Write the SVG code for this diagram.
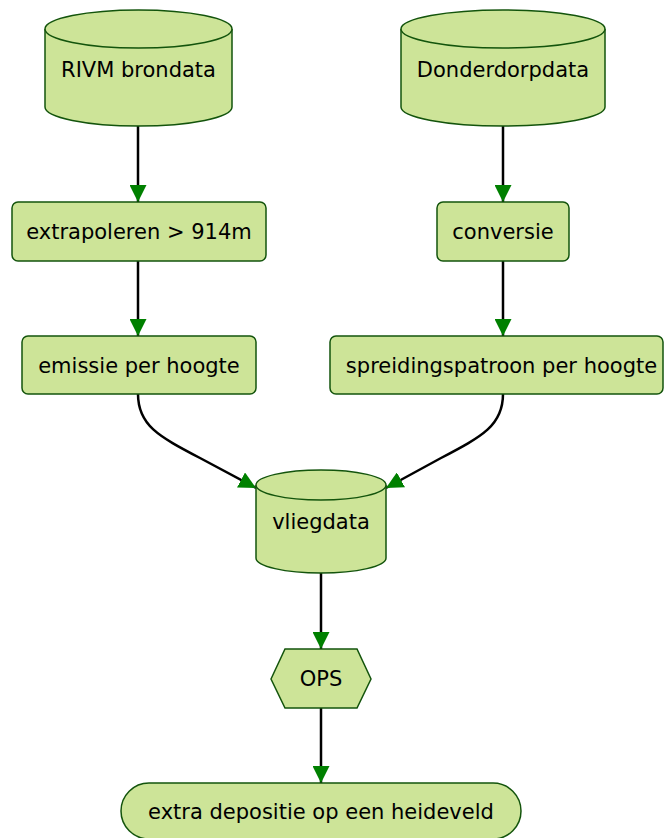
<svg xmlns="http://www.w3.org/2000/svg" width="665" height="838" viewBox="0 0 665 838">
<style>
.n{fill:#cde498;stroke:#13540c;stroke-width:1.5}
.t{font-family:"DejaVu Sans",sans-serif;font-size:21px;fill:#000;text-anchor:middle;dominant-baseline:central}
.e{fill:none;stroke:#000;stroke-width:2.5}
</style>
<defs>
<marker id="ah" viewBox="0 0 10 10" refX="10" refY="5" markerUnits="userSpaceOnUse" markerWidth="17" markerHeight="17" orient="auto">
<path d="M0,0 L10,5 L0,10 Z" fill="#008000"/>
</marker>
</defs>
<g id="edges">
<path class="e" d="M138,126 L138,202" marker-end="url(#ah)"/>
<path class="e" d="M138,261 L138,336" marker-end="url(#ah)"/>
<path class="e" d="M503,126 L503,202" marker-end="url(#ah)"/>
<path class="e" d="M503,261 L503,336" marker-end="url(#ah)"/>
<path class="e" d="M138,394 C138,425 158,436 200,458 L256,488" marker-end="url(#ah)"/>
<path class="e" d="M503,394 C503,425 483,436 441,458 L386,488" marker-end="url(#ah)"/>
<path class="e" d="M321,573 L321,649" marker-end="url(#ah)"/>
<path class="e" d="M321,708 L321,783" marker-end="url(#ah)"/>
</g>
<g id="rivm">
<path class="n" d="M45,29 A93.5,19 0 0 1 232,29 L232,107 A93.5,19 0 0 1 45,107 Z"/>
<path class="n" d="M45,29 A93.5,19 0 0 0 232,29"/>
<text class="t" x="138.5" y="70">RIVM brondata</text>
</g>
<g id="donderdorp">
<path class="n" d="M401,29 A102,19 0 0 1 605,29 L605,107 A102,19 0 0 1 401,107 Z"/>
<path class="n" d="M401,29 A102,19 0 0 0 605,29"/>
<text class="t" x="503" y="70">Donderdorpdata</text>
</g>
<g id="extrapoleren">
<rect class="n" x="12" y="202" width="254" height="59" rx="6"/>
<text class="t" x="139" y="232">extrapoleren &gt; 914m</text>
</g>
<g id="conversie">
<rect class="n" x="437" y="202" width="132" height="59" rx="6"/>
<text class="t" x="503" y="232">conversie</text>
</g>
<g id="emissie">
<rect class="n" x="22" y="336" width="234" height="58" rx="6"/>
<text class="t" x="139" y="366">emissie per hoogte</text>
</g>
<g id="spreiding">
<rect class="n" x="330" y="336" width="333" height="58" rx="6"/>
<text class="t" x="501.5" y="366">spreidingspatroon per hoogte</text>
</g>
<g id="vliegdata">
<path class="n" d="M256,485 A65,15 0 0 1 386,485 L386,558 A65,15 0 0 1 256,558 Z"/>
<path class="n" d="M256,485 A65,15 0 0 0 386,485"/>
<text class="t" x="321" y="522">vliegdata</text>
</g>
<g id="ops">
<polygon class="n" points="271,679 285,649 357,649 371,679 357,708 285,708"/>
<text class="t" x="321" y="679">OPS</text>
</g>
<g id="depositie">
<rect class="n" x="121" y="783" width="400" height="56" rx="28"/>
<text class="t" x="321" y="812">extra depositie op een heideveld</text>
</g>
</svg>
